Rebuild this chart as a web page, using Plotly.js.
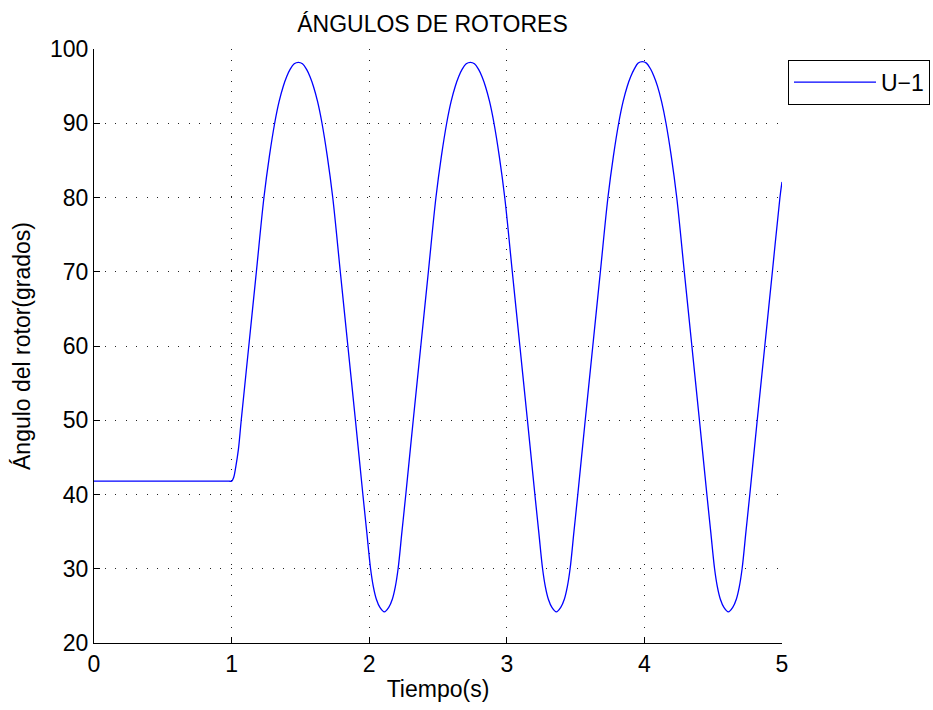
<!DOCTYPE html>
<html>
<head>
<meta charset="utf-8">
<script src="https://cdn.plot.ly/plotly-3.0.1.min.js"></script>
<style>html,body{margin:0;padding:0;background:#fff;}</style>
</head>
<body>
<div id="chart" style="width:933px;height:710px;"></div>
<script>
const seriesName = 'U\u22121';
const chartTitle = 'ÁNGULOS DE ROTORES';
const xLabel = 'Tiempo(s)';
const yLabel = 'Ángulo del rotor(grados)';
const xTicks = [0, 1, 2, 3, 4, 5];
const yTicks = [20, 30, 40, 50, 60, 70, 80, 90, 100];

const time = [
  0, 0.5, 0.98, 1.000, 1.015, 1.030, 1.049, 1.070, 1.125, 1.180, 1.235, 1.275, 1.313, 1.345, 1.375, 1.400, 1.425, 1.455, 1.485,
  1.515, 1.545, 1.570, 1.595, 1.625, 1.657, 1.695, 1.735, 1.790, 1.845, 1.900, 1.954, 1.982, 2.010, 2.030, 2.052, 2.078, 2.110,
  2.142, 2.168, 2.190, 2.210, 2.238, 2.266, 2.320, 2.375, 2.430, 2.485, 2.525, 2.563, 2.595, 2.625, 2.650, 2.675, 2.705, 2.735,
  2.765, 2.795, 2.820, 2.845, 2.875, 2.907, 2.945, 2.985, 3.040, 3.095, 3.150, 3.204, 3.232, 3.260, 3.280, 3.302, 3.328, 3.360,
  3.392, 3.418, 3.440, 3.460, 3.488, 3.516, 3.570, 3.625, 3.680, 3.735, 3.775, 3.813, 3.845, 3.875, 3.900, 3.925, 3.955, 3.985,
  4.015, 4.045, 4.070, 4.095, 4.125, 4.157, 4.195, 4.235, 4.290, 4.345, 4.400, 4.454, 4.482, 4.510, 4.530, 4.552, 4.578, 4.610,
  4.642, 4.668, 4.690, 4.710, 4.738, 4.766, 4.820, 4.875, 4.930, 4.985, 5.000
];
const angle = [
  41.8, 41.8, 41.8, 41.8, 42.3, 43.7, 46.0, 50.0, 60.0, 70.0, 80.0, 85.6, 90.0, 92.9, 94.95, 96.25, 97.25, 98.0, 98.2,
  98.0, 97.25, 96.25, 94.95, 92.9, 90.0, 85.6, 80.0, 70.0, 60.0, 50.0, 40.0, 35.0, 30.0, 27.6, 25.9, 24.8, 24.2,
  24.8, 25.9, 27.6, 30.0, 35.0, 40.0, 50.0, 60.0, 70.0, 80.0, 85.6, 90.0, 92.9, 94.95, 96.25, 97.25, 98.0, 98.2,
  98.0, 97.25, 96.25, 94.95, 92.9, 90.0, 85.6, 80.0, 70.0, 60.0, 50.0, 40.0, 35.0, 30.0, 27.6, 25.9, 24.8, 24.2,
  24.8, 25.9, 27.6, 30.0, 35.0, 40.0, 50.0, 60.0, 70.0, 80.0, 85.6, 90.0, 92.9, 94.95, 96.25, 97.25, 98.1, 98.3,
  98.1, 97.3, 96.3, 95.0, 92.9, 90.0, 85.6, 80.0, 70.0, 60.0, 50.0, 40.0, 35.0, 30.0, 27.6, 25.9, 24.8, 24.2,
  24.8, 25.9, 27.6, 30.0, 35.0, 40.0, 50.0, 60.0, 70.0, 80.0, 82.1
];

const FONT = 'Liberation Sans, Arial, Helvetica, sans-serif';
const FS = 23;

const trace = {
  type: 'scatter',
  mode: 'lines',
  x: time,
  y: angle,
  name: seriesName,
  line: {color: '#0000ff', width: 1.3, shape: 'spline', smoothing: 1}
};

const axisCommon = {
  showline: true,
  linecolor: '#000',
  linewidth: 1,
  ticks: 'inside',
  ticklen: 6,
  tickwidth: 1,
  tickcolor: '#000',
  showgrid: true,
  gridcolor: '#222',
  gridwidth: 1,
  griddash: '1px,9.5px',
  zeroline: false,
  mirror: false,
  automargin: false,
  tickfont: {family: FONT, size: FS, color: '#000'}
};

const layout = {
  width: 933,
  height: 710,
  margin: {l: 94, r: 151, t: 49, b: 67, pad: 0, autoexpand: false},
  paper_bgcolor: '#fff',
  plot_bgcolor: '#fff',
  font: {family: FONT, size: FS, color: '#000'},
  title: {
    text: chartTitle,
    font: {family: FONT, size: FS, color: '#000'},
    x: 0.492, xref: 'paper', xanchor: 'center',
    y: 0.966, yref: 'container', yanchor: 'middle'
  },
  xaxis: Object.assign({}, axisCommon, {
    range: [0, 5],
    tickmode: 'array',
    tickvals: xTicks,
    ticktext: xTicks.map(String),
    title: {text: xLabel, font: {family: FONT, size: FS, color: '#000'}, standoff: 5}
  }),
  yaxis: Object.assign({}, axisCommon, {
    range: [20, 100],
    tickmode: 'array',
    tickvals: yTicks,
    ticktext: yTicks.map(String),
    title: {text: yLabel, font: {family: FONT, size: FS, color: '#000'}, standoff: 12}
  }),
  showlegend: true,
  legend: {
    x: 1.0087, y: 0.982, xref: 'paper', yref: 'paper',
    xanchor: 'left', yanchor: 'top',
    bgcolor: '#fff',
    bordercolor: '#000',
    borderwidth: 1,
    font: {family: FONT, size: FS, color: '#000'},
    itemwidth: 82,
    tracegroupgap: 0
  }
};

Plotly.newPlot('chart', [trace], layout, {displayModeBar: false, staticPlot: true});
</script>
</body>
</html>
